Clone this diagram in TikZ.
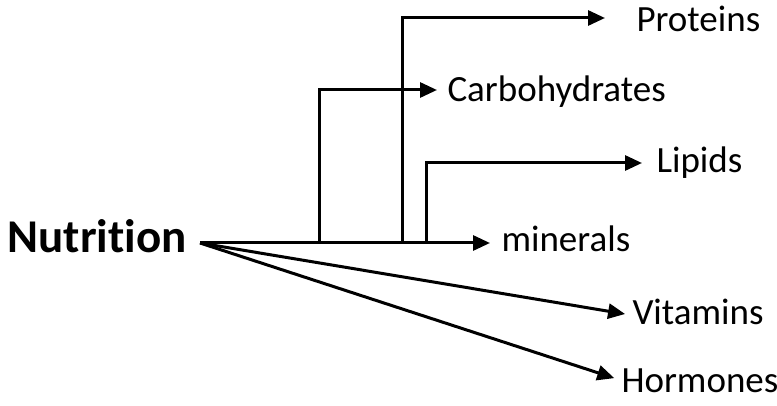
\documentclass[tikz,border=0pt]{standalone}
\usepackage{fontspec}
\setmainfont{Carlito}[Ligatures=NoCommon]
\usetikzlibrary{arrows.meta}

\begin{document}
\begin{tikzpicture}[x=1pt,y=-1pt,->,>={Triangle[length=17pt,width=15pt]},line width=3pt,
  item/.style={anchor=west,inner sep=0pt,text height=#1,text depth=0pt,font=\fontsize{37}{40}\selectfont},
  item/.default=20pt,
  every node/.style={inner sep=0pt}]
  \useasboundingbox (0,0) rectangle (777,406);
  \node[anchor=base west,font=\fontsize{47}{50}\selectfont\bfseries] (nut) at (6,253) {Nutrition};
  \coordinate (root) at (200,243);
  \coordinate (cb) at (319,243);
  \coordinate (pb) at (402,243);
  \coordinate (lb) at (426,243);
  \node[item=28pt] (prot) at (635,18) {Proteins};
  \node[item=24pt] (carb) at (446,90) {Carbohydrates};
  \node[item] (lip) at (655,163) {Lipids};
  \node[item=18pt] (min) at (500,243) {minerals};
  \node[item] (vit) at (631,315) {Vitamins};
  \node[item=24pt] (hor) at (620,380) {Hormones};
  \draw[shorten >=10pt] (root) -- (min.west);
  \draw[shorten >=9pt] (cb) |- (carb.west);
  \draw[shorten >=30pt] (pb) |- (prot.west);
  \draw[shorten >=13pt] (lb) |- (lip.west);
  \draw[shorten >=6pt] (root) -- (vit.west);
  \draw[shorten >=6pt] (root) -- (hor.west);
\end{tikzpicture}
\end{document}
